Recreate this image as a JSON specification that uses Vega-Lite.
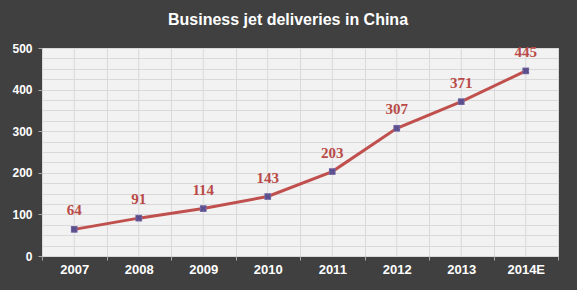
{
  "$schema": "https://vega.github.io/schema/vega-lite/v6.json",
  "width": 516,
  "height": 208,
  "autosize": {"type": "none"},
  "padding": {"left": 42, "top": 48, "right": 19, "bottom": 34},
  "background": "#404040",
  "title": {
    "text": "Business jet deliveries in China",
    "color": "#ffffff",
    "font": "Liberation Sans",
    "fontSize": 16,
    "fontWeight": "bold",
    "anchor": "middle",
    "dx": -12,
    "offset": 14
  },
  "config": {
    "view": {"fill": "#f2f2f2", "stroke": "#d0d0d0", "strokeWidth": 1},
    "axis": {
      "labelFont": "Liberation Sans",
      "labelFontWeight": "bold",
      "labelColor": "#ffffff",
      "gridColor": "#d9d9d9",
      "gridOpacity": 1,
      "gridWidth": 1,
      "domain": false,
      "tickColor": "#a6a6a6",
      "tickSize": 4,
      "title": null
    }
  },
  "data": {
    "values": [
      {"year": "2007", "deliveries": 64},
      {"year": "2008", "deliveries": 91},
      {"year": "2009", "deliveries": 114},
      {"year": "2010", "deliveries": 143},
      {"year": "2011", "deliveries": 203},
      {"year": "2012", "deliveries": 307},
      {"year": "2013", "deliveries": 371},
      {"year": "2014E", "deliveries": 445}
    ]
  },
  "encoding": {
    "x": {
      "field": "year",
      "type": "ordinal",
      "sort": null,
      "scale": {"type": "band", "paddingInner": 0, "paddingOuter": 0},
      "axis": {
        "tickBand": "extent",
        "labelAngle": 0,
        "labelFontSize": 13,
        "labelPadding": 3,
        "grid": true
      }
    },
    "y": {
      "field": "deliveries",
      "type": "quantitative",
      "scale": {"domain": [0, 500], "nice": false},
      "axis": {
        "values": [0, 25, 50, 75, 100, 125, 150, 175, 200, 225, 250, 275, 300, 325, 350, 375, 400, 425, 450, 475, 500],
        "labelExpr": "datum.value % 100 === 0 ? datum.label : ''",
        "tickOpacity": {"condition": {"test": "datum.value % 100 === 0", "value": 1}, "value": 0},
        "labelFontSize": 12,
        "labelPadding": 6,
        "labelOverlap": false,
        "grid": true
      }
    }
  },
  "layer": [
    {
      "mark": {"type": "rule", "color": "#d9d9d9", "strokeWidth": 1},
      "encoding": {
        "y": {"datum": 0, "type": "quantitative"},
        "y2": {"datum": 500}
      }
    },
    {
      "mark": {"type": "line", "color": "#c0504d", "strokeWidth": 3}
    },
    {
      "mark": {"type": "point", "shape": "square", "filled": true, "size": 45, "color": "#7a6ca8", "opacity": 1}
    },
    {
      "mark": {"type": "point", "shape": "cross", "filled": true, "size": 40, "angle": 45, "color": "#5a4f8c", "opacity": 1}
    },
    {
      "mark": {"type": "text", "font": "Liberation Serif", "fontSize": 15, "fontWeight": "bold", "color": "#b94a47", "dy": -14, "baseline": "alphabetic"},
      "encoding": {
        "text": {"field": "deliveries", "type": "quantitative"}
      }
    }
  ]
}
